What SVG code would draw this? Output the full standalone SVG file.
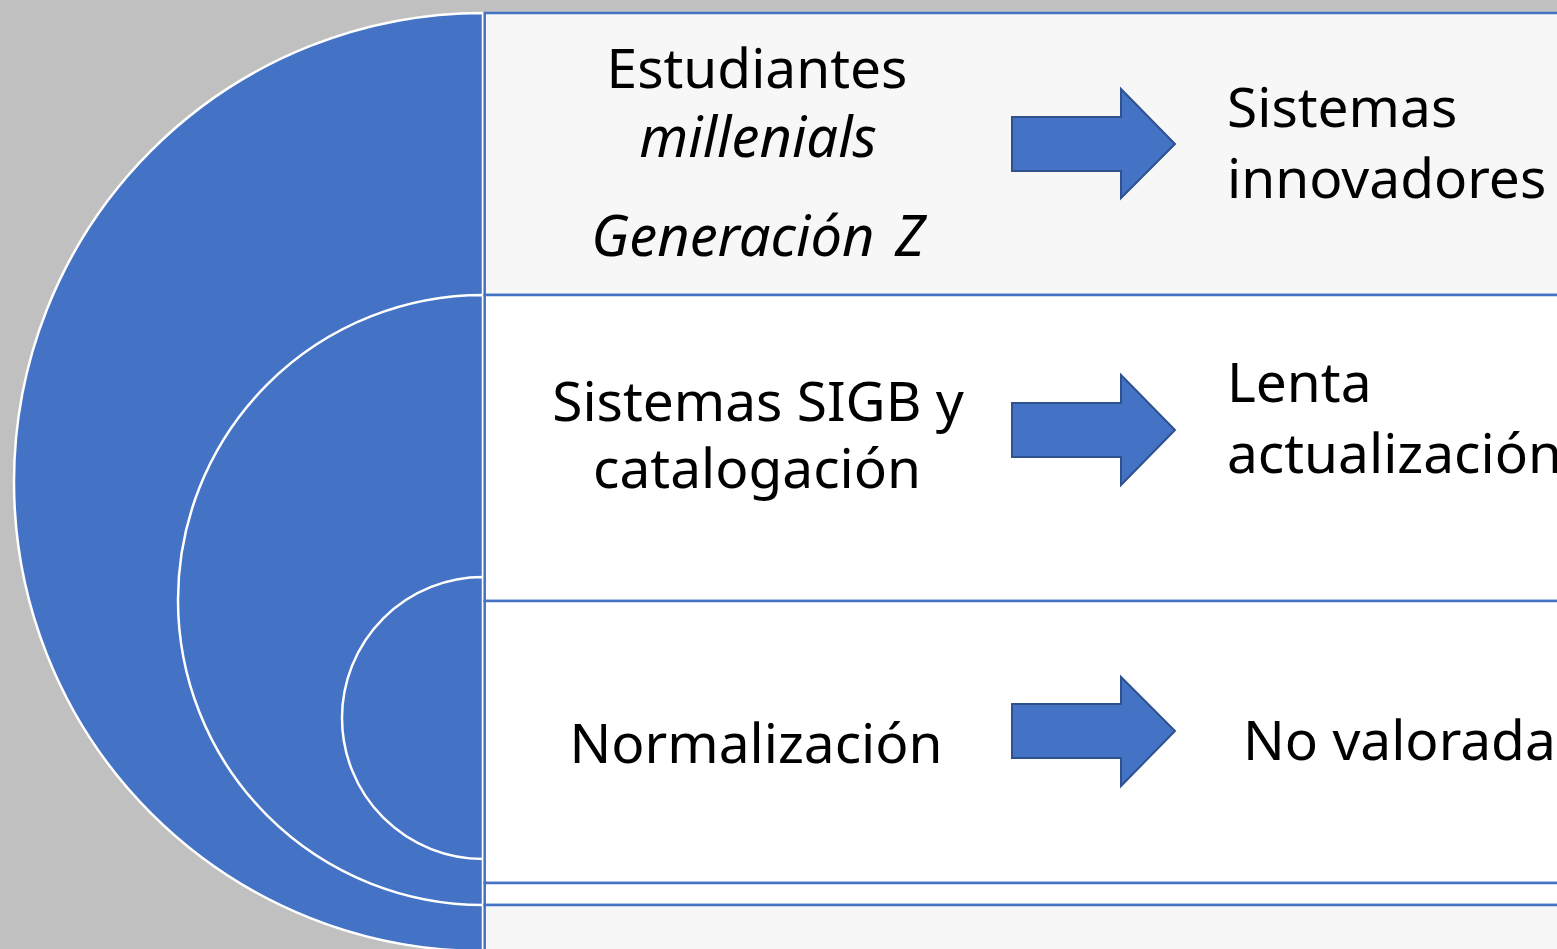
<svg xmlns="http://www.w3.org/2000/svg" width="1557" height="949" viewBox="0 0 1557 949">
  <style>
    .arc { fill: #4472C4; stroke: #FFFFFF; stroke-width: 2.5; }
    .row { stroke: #4472C4; stroke-width: 2.5; }
    .arrow { fill: #4472C4; stroke: #2F528F; stroke-width: 2; stroke-linejoin: miter; }
    .t { font-family: "Noto Sans", "Open Sans", sans-serif; font-size: 55px; fill: #000000; }
    .c { text-anchor: middle; }
    .i { font-style: italic; }
  </style>
  <rect x="0" y="0" width="1557" height="949" fill="#C0C0C0"/>
  <g id="circles">
    <path class="arc" d="M483,13 A469,469 0 0 0 483,951 Z"/>
    <path class="arc" d="M483,295 A305,305 0 0 0 483,905 Z"/>
    <path class="arc" d="M483,577 A141,141 0 0 0 483,859 Z"/>
  </g>
  <g id="rows">
    <rect class="row" x="484.7" y="13" width="1080" height="282" fill="#F7F7F7"/>
    <rect class="row" x="484.7" y="295" width="1080" height="306" fill="#FFFFFF"/>
    <rect class="row" x="484.7" y="601" width="1080" height="282" fill="#FFFFFF"/>
    <rect class="row" x="484.7" y="883" width="1080" height="22" fill="#FFFFFF"/>
    <rect class="row" x="484.7" y="905" width="1080" height="60" fill="#F7F7F7"/>
  </g>
  <g id="node1">
    <text class="t c" x="757" y="88">Estudiantes</text>
    <text class="t c i" x="758" y="157" style="font-size:56px">millenials</text>
    <text class="t c i" x="758" y="256" style="font-size:56px" word-spacing="6">Generación Z</text>
    <text class="t" x="1227" y="127">Sistemas</text>
    <text class="t" x="1227" y="198">innovadores</text>
  </g>
  <g id="node2">
    <text class="t c" x="758" y="421">Sistemas SIGB y</text>
    <text class="t c" x="757" y="488">catalogación</text>
    <text class="t" x="1227" y="402">Lenta</text>
    <text class="t" x="1227" y="473">actualización</text>
  </g>
  <g id="node3">
    <text class="t c" x="756" y="763">Normalización</text>
    <text class="t" x="1243" y="760">No valorada</text>
  </g>
  <g id="connectors">
    <path class="arrow" d="M1012,117 H1121 V89 L1175,144 L1121,198 V171 H1012 Z"/>
    <path class="arrow" d="M1012,403 H1121 V375 L1175,430 L1121,485 V457 H1012 Z"/>
    <path class="arrow" d="M1012,704 H1121 V677 L1175,731 L1121,786 V758 H1012 Z"/>
  </g>
</svg>
